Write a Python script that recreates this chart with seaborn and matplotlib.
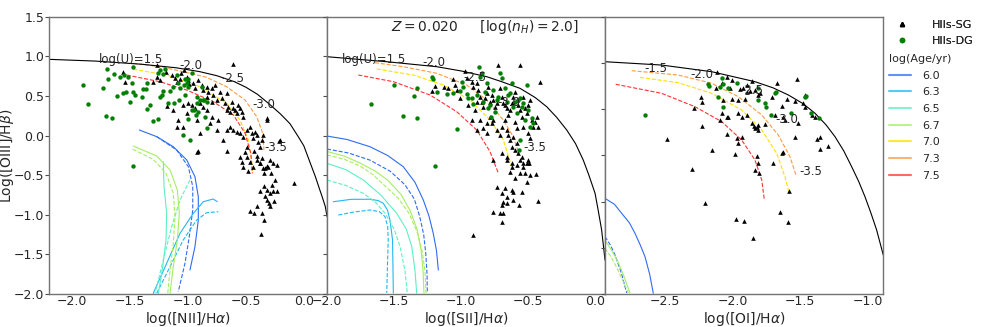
import matplotlib
matplotlib.use("Agg")
import matplotlib.pyplot as plt
import seaborn as sns
from matplotlib.lines import Line2D

sns.set_theme(style="white")
plt.rcParams['font.family'] = ['DejaVu Sans']
plt.rcParams['mathtext.fontset'] = 'dejavusans'

# ---------------- data ----------------
age_labels = ['6.0', '6.3', '6.5', '6.7', '7.0', '7.3', '7.5']
age_colors = ['#2f6cf2', '#20b8f0', '#5eeec6', '#a6ee62', '#ffe000', '#ff9a40', '#ff3333']
u_labels = ['log(U)=1.5', '-2.0', '-2.5', '-3.0', '-3.5']
u3_labels = ['-1.5', '-2.0', '-2.5', '-3.0', '-3.5']

# maximum starburst lines
kew1_x = [-2.2, -1.8, -1.4, -1.1, -0.9, -0.75, -0.6, -0.5, -0.4, -0.3, -0.2, -0.12, -0.05,
          0.0, 0.056, 0.1, 0.128, 0.16, 0.185, 0.2]
kew1_y = [0.962, 0.94, 0.90, 0.855, 0.807, 0.755, 0.68, 0.61, 0.52, 0.40, 0.27, 0.15, -0.01,
          -0.13, -0.349, -0.52, -0.643, -0.78, -0.895, -1.02]
kew2_x = [-2.0, -1.555, -1.183, -1.0, -0.811, -0.7, -0.563, -0.45, -0.364, -0.29, -0.215, -0.15,
          -0.092, -0.05, -0.004, 0.02, 0.045, 0.07]
kew2_y = [0.995, 0.932, 0.869, 0.815, 0.743, 0.68, 0.596, 0.48, 0.364, 0.23, 0.070, -0.10,
          -0.309, -0.50, -0.729, -0.95, -1.192, -1.571]
kew3_x = [-2.94, -2.522, -2.153, -1.834, -1.7, -1.588, -1.48, -1.391, -1.31, -1.244, -1.18, -1.121,
          -1.07, -1.023, -0.98, -0.937, -0.888]
kew3_y = [1.013, 0.977, 0.905, 0.797, 0.73, 0.653, 0.56, 0.455, 0.33, 0.202, 0.05, -0.123,
          -0.28, -0.447, -0.62, -0.807, -1.078]

# old-age model tracks (log U from -1.5 to -3.5), dashed
p1_73_x = [-1.472, -1.242, -1.041, -0.839, -0.666, -0.508, -0.407, -0.355, -0.344]
p1_73_y = [0.912, 0.869, 0.806, 0.735, 0.616, 0.449, 0.238, 0.028, -0.182]
p1_70_x = [-1.472, -1.184, -0.896, -0.665, -0.551, -0.479, -0.450, -0.444]
p1_70_y = [0.836, 0.764, 0.616, 0.407, 0.197, -0.056, -0.308, -0.476]
p1_75_x = [-1.529, -1.241, -1.011, -0.781, -0.608, -0.507, -0.458, -0.444]
p1_75_y = [0.764, 0.679, 0.574, 0.427, 0.259, 0.028, -0.225, -0.476]

p2_73_x = [-1.643, -1.432, -1.183, -0.960, -0.811, -0.687, -0.613, -0.576]
p2_73_y = [0.920, 0.869, 0.786, 0.638, 0.449, 0.196, -0.014, -0.204]
p2_70_x = [-1.630, -1.357, -1.134, -0.935, -0.786, -0.687, -0.625]
p2_70_y = [0.840, 0.764, 0.638, 0.449, 0.196, -0.056, -0.393]
p2_75_x = [-1.767, -1.506, -1.233, -1.034, -0.885, -0.786, -0.724]
p2_75_y = [0.764, 0.680, 0.512, 0.301, 0.070, -0.204, -0.476]

p3_73_x = [-2.743, -2.400, -2.153, -1.957, -1.784, -1.662, -1.576, -1.532]
p3_73_y = [0.916, 0.869, 0.780, 0.635, 0.437, 0.220, -0.015, -0.212]
p3_70_x = [-2.682, -2.400, -2.153, -1.932, -1.784, -1.674, -1.613, -1.583]
p3_70_y = [0.844, 0.786, 0.671, 0.491, 0.274, 0.022, -0.231, -0.404]
p3_75_x = [-2.861, -2.522, -2.276, -2.079, -1.932, -1.834, -1.784, -1.765]
p3_75_y = [0.769, 0.671, 0.526, 0.364, 0.166, -0.051, -0.267, -0.483]

# young-age model tracks, solid and dashed
p1_60s_x = [-1.420, -1.270, -1.127, -1.011, -0.940, -0.911, -0.911, -0.940, -0.983]
p1_60s_y = [0.070, -0.014, -0.141, -0.308, -0.519, -0.772, -1.066, -1.403, -1.697]
p1_60d_x = [-1.270, -1.098, -0.997, -0.959, -0.959, -0.989, -1.026, -1.084]
p1_60d_y = [-0.014, -0.182, -0.393, -0.645, -0.939, -1.276, -1.612, -1.971]
p1_63s_x = [-1.300, -1.184, -1.069, -0.954, -0.868, -0.782, -0.747]
p1_63s_y = [-1.991, -1.612, -1.234, -0.981, -0.835, -0.801, -0.835]
p1_63d_x = [-1.270, -1.155, -1.041, -0.925, -0.839, -0.738]
p1_63d_y = [-1.991, -1.655, -1.318, -1.066, -0.974, -0.961]
p1_65s_x = [-1.213, -1.207, -1.184, -1.190, -1.218, -1.256]
p1_65s_y = [-0.330, -0.645, -0.981, -1.318, -1.655, -1.991]
p1_65d_x = [-0.983, -1.069, -1.141, -1.199, -1.256, -1.285]
p1_65d_y = [-0.561, -0.813, -1.150, -1.486, -1.823, -1.991]
p1_67s_x = [-1.472, -1.270, -1.155, -1.092, -1.075, -1.092, -1.127, -1.155]
p1_67s_y = [-0.132, -0.258, -0.435, -0.687, -0.981, -1.318, -1.655, -1.991]
p1_67d_x = [-1.477, -1.300, -1.190, -1.127, -1.112, -1.127, -1.155, -1.175]
p1_67d_y = [-0.173, -0.300, -0.476, -0.729, -1.024, -1.360, -1.697, -1.991]

p2_60s_x = [-2.0, -1.85, -1.68, -1.55, -1.432, -1.345, -1.283, -1.24, -1.209, -1.185, -1.171]
p2_60s_y = [-0.006, -0.05, -0.141, -0.25, -0.393, -0.59, -0.813, -1.02, -1.233, -1.45, -1.697]
p2_60d_x = [-2.0, -1.84, -1.68, -1.53, -1.42, -1.35, -1.31, -1.28, -1.265, -1.255, -1.253]
p2_60d_y = [-0.17, -0.22, -0.31, -0.45, -0.62, -0.80, -1.02, -1.25, -1.48, -1.75, -1.99]
p2_63s_x = [-1.953, -1.82, -1.68, -1.62, -1.581, -1.55, -1.531, -1.512, -1.506]
p2_63s_y = [-0.835, -0.805, -0.804, -0.82, -0.855, -0.94, -1.066, -1.318, -1.987]
p2_63d_x = [-1.916, -1.80, -1.68, -1.61, -1.568, -1.548, -1.544, -1.55, -1.555]
p2_63d_y = [-1.003, -0.965, -0.94, -0.96, -1.024, -1.15, -1.318, -1.65, -1.987]
p2_65s_x = [-2.0, -1.86, -1.73, -1.60, -1.481, -1.41, -1.369, -1.345, -1.332]
p2_65s_y = [-0.35, -0.43, -0.561, -0.75, -0.981, -1.18, -1.402, -1.70, -1.991]
p2_65d_x = [-2.0, -1.86, -1.73, -1.64, -1.568, -1.50, -1.456, -1.42, -1.402]
p2_65d_y = [-0.561, -0.63, -0.729, -0.84, -0.981, -1.18, -1.402, -1.70, -1.991]
p2_67s_x = [-2.0, -1.87, -1.75, -1.64, -1.55, -1.45, -1.38, -1.33, -1.30, -1.285, -1.278]
p2_67s_y = [-0.20, -0.26, -0.35, -0.45, -0.56, -0.74, -0.95, -1.18, -1.44, -1.70, -1.99]
p2_67d_x = [-2.0, -1.87, -1.754, -1.66, -1.576, -1.47, -1.39, -1.33, -1.29, -1.27, -1.263]
p2_67d_y = [-0.245, -0.30, -0.384, -0.49, -0.624, -0.79, -0.98, -1.21, -1.47, -1.72, -1.99]

p3_60s_x = [-2.94, -2.87, -2.817, -2.76, -2.719, -2.68, -2.645, -2.61, -2.584]
p3_60s_y = [-0.465, -0.53, -0.627, -0.73, -0.843, -0.97, -1.096, -1.29, -1.492]
p3_60d_x = [-2.94, -2.90, -2.866, -2.82, -2.780]
p3_60d_y = [-0.880, -0.97, -1.078, -1.27, -1.489]
p3_67s_x = [-2.94, -2.89, -2.844, -2.80, -2.756]
p3_67s_y = [-0.916, -1.03, -1.154, -1.31, -1.489]
p3_67d_x = [-2.94, -2.895, -2.852, -2.81, -2.768]
p3_67d_y = [-1.005, -1.10, -1.218, -1.35, -1.489]

# log(U) label positions
u1_x = [-1.488, -0.974, -0.616, -0.344, -0.240]
u1_y = [0.954, 0.890, 0.714, 0.398, -0.157]
u2_x = [-1.650, -1.203, -0.898, -0.645, -0.451]
u2_y = [0.966, 0.916, 0.727, 0.411, -0.157]
u3_x = [-2.564, -2.225, -1.856, -1.598, -1.421]
u3_y = [0.945, 0.880, 0.699, 0.393, -0.177]

# HIIs-DG (green)
dg1_x = [-1.909, -1.860, -1.737, -1.702, -1.708, -1.688, -1.659, -1.639, -1.610, -1.587, -1.558, -1.552,
         -1.535, -1.515, -1.501, -1.486, -1.478, -1.472, -1.457, -1.400, -1.385, -1.362, -1.357, -1.328,
         -1.299, -1.256, -1.227, -1.242, -1.219, -1.213, -1.198, -1.170, -1.155, -1.121, -1.098, -1.083,
         -1.075, -1.046, -1.034, -1.026, -1.006, -0.997, -0.997, -0.983, -0.968, -0.948, -0.925, -0.919,
         -0.911, -0.896, -0.882, -0.873, -0.862, -0.853, -0.839, -0.839, -1.478, -1.357, -1.242, -1.256,
         -0.997, -0.968, -1.127, -1.069, -0.931, -1.026]
dg1_y = [0.638, 0.398, 0.596, 0.835, 0.251, 0.713, 0.217, 0.772, 0.503, 0.734, 0.541, 0.764,
         0.554, 0.743, 0.427, 0.667, 0.554, 0.869, 0.511, 0.490, 0.583, 0.583, 0.331, 0.385,
         0.188, 0.204, 0.511, 0.482, 0.566, 0.776, 0.835, 0.406, 0.566, 0.415, 0.764, 0.659,
         0.448, 0.007, 0.638, 0.709, 0.659, 0.204, 0.617, -0.057, 0.322, 0.322, 0.482, 0.415,
         0.301, 0.448, 0.617, 0.448, 0.448, 0.238, 0.091, 0.427, -0.380, 0.659, 0.827, 0.785,
         0.709, 0.785, 0.617, 0.596, 0.259, 0.511]

dg2_x = [-1.675, -1.501, -1.436, -1.332, -1.332, -1.350, -1.221, -1.208, -1.183, -1.109, -1.034, -1.196,
         -1.059, -1.010, -0.997, -0.985, -0.960, -0.948, -0.923, -0.910, -0.885, -0.866, -0.861, -0.848,
         -0.836, -0.823, -0.811, -0.799, -0.786, -0.781, -0.761, -0.749, -0.737, -0.724, -0.712, -0.699,
         -0.674, -0.662, -0.650, -0.637, -0.625, -0.612, -0.600, -0.588, -0.575, -0.563, -0.550, -0.538,
         -0.526, -0.513, -0.501, -0.488, -0.476, -0.464, -0.563, -0.568]
dg2_y = [0.398, 0.638, 0.246, 0.596, 0.217, 0.499, 0.734, 0.709, 0.545, 0.524, 0.078, -0.380,
         0.541, 0.566, 0.680, 0.617, 0.524, 0.469, 0.469, 0.398, 0.511, 0.869, 0.743, 0.785,
         0.427, 0.554, 0.659, 0.343, 0.385, 0.238, 0.575, 0.301, 0.448, 0.482, 0.785, 0.722,
         0.596, 0.427, 0.511, 0.532, 0.659, 0.356, 0.427, 0.280, 0.448, 0.469, 0.364, 0.406,
         0.196, 0.638, 0.322, 0.112, 0.217, 0.154, -0.057, -0.183]

dg3_x = [-2.645, -2.178, -2.173, -2.080, -2.068, -2.092, -2.031, -1.969, -2.109, -2.068, -1.810, -1.760,
         -1.755, -1.687, -1.682, -1.716, -1.569, -1.465, -1.461, -1.421, -1.362, -1.810]
dg3_y = [0.437, 0.772, 0.751, 0.834, 0.769, 0.736, 0.733, 0.779, 0.635, 0.527, 0.603, 0.570,
         0.520, 0.671, 0.686, 0.437, 0.455, 0.635, 0.646, 0.462, 0.401, 0.725]

# HIIs-SG (black triangles)
sg1_x = [-1.558, -1.544, -1.299, -1.270, -1.242, -1.270, -1.190, -1.141, -1.112, -1.098, -1.069, -1.063,
         -1.034, -1.011, -0.997, -0.988, -0.954, -0.939, -0.911, -0.882, -0.868, -0.839, -0.824, -0.796,
         -0.781, -0.767, -0.752, -0.724, -0.709, -0.680, -0.666, -0.652, -0.637, -0.623, -0.609, -0.594,
         -0.580, -0.565, -0.551, -0.537, -0.522, -0.614, -0.666, -0.896, -0.868, -0.839, -0.925, -0.810,
         -0.796, -0.896, -1.011, -1.040, -1.178, -1.098, -1.040, -0.997, -0.968, -0.939, -0.738, -0.695,
         -0.666, -0.637, -0.609, -0.580, -0.551, -0.522, -0.493, -0.465, -0.450, -0.436, -0.421, -0.407,
         -0.393, -0.378, -0.364, -0.349, -0.321, -0.306, -0.292, -0.263, -0.234, -0.211, -0.493, -0.508,
         -0.551, -0.537, -0.522, -0.493, -0.465, -0.436, -0.407, -0.378, -0.349, -0.919, -1.083, -1.127,
         -0.752, -0.839, -0.796,
         -0.319, -0.204, -0.089, -0.478, -0.463, -0.406, -0.363, -0.348, -0.371, -0.377, -0.348, -0.319,
         -0.290, -0.262, -0.233, -0.319, -0.290, -0.256, -0.247, -0.319, -0.348, -0.334, -0.377, -0.406,
         -0.434, -0.363, -0.910, -0.665, -0.276, -0.334, -0.434, -0.305, -0.285]
sg1_y = [0.806, 0.680, 0.680, 0.743, 0.701, 0.890, 0.806, 0.764, 0.722, 0.680, 0.709, 0.785,
         0.827, 0.743, 0.701, 0.650, 0.659, 0.596, 0.701, 0.638, 0.575, 0.617, 0.554, 0.596,
         0.511, 0.638, 0.448, 0.554, 0.469, 0.406, 0.322, 0.364, 0.301, 0.427, 0.343, 0.322,
         0.280, 0.385, 0.343, 0.301, 0.238, 0.898, 0.532, 0.406, 0.364, 0.322, 0.196, 0.154,
         0.238, 0.028, 0.280, 0.385, 0.373, 0.112, 0.112, 0.406, 0.385, 0.343, 0.196, -0.057,
         0.070, 0.112, 0.070, 0.049, 0.028, -0.014, 0.070, 0.112, 0.028, -0.035, 0.049, 0.007,
         -0.078, -0.141, -0.056, 0.007, 0.196, -0.393, -0.309, -0.351, -0.372, -0.065, -0.141, -0.204,
         -0.267, -0.330, -0.393, -0.267, -0.330, -0.393, -0.309, -0.351, -0.414, -0.204, 0.196, 0.322,
         0.070, 0.490, 0.427,
         0.219, -0.054, -0.600, -0.453, -0.957, -0.894, -0.978, -1.062, -1.243, -0.705, -0.642, -0.684,
         -0.726, -0.705, -0.705, -0.810, -0.894, -0.831, -0.558, -0.390, -0.474, -0.411, -0.348, -0.264,
         -0.201, -0.285, -0.201, -0.201, -0.621, -0.768, -0.978, -0.852, -0.474]

sg2_x = [-1.221, -1.196, -1.129, -1.096, -1.059, -1.047, -1.034, -1.010, -0.972, -0.960, -0.923, -0.910,
         -0.885, -0.873, -0.861, -0.848, -0.836, -0.823, -0.811, -0.799, -0.786, -0.774, -0.761, -0.749,
         -0.737, -0.724, -0.712, -0.699, -0.687, -0.674, -0.662, -0.650, -0.637, -0.625, -0.612, -0.600,
         -0.588, -0.575, -0.563, -0.563, -0.550, -0.538, -0.526, -0.513, -0.501, -0.488, -0.476, -0.464,
         -0.451, -0.439, -0.426, -0.414, -0.898, -0.885, -0.861, -0.836, -0.811, -0.786, -0.774, -0.761,
         -0.737, -0.712, -0.699, -0.674, -0.662, -0.650, -0.637, -0.625, -0.612, -0.600, -0.588, -0.575,
         -0.563, -0.550, -0.538, -0.513, -0.493, -0.625, -0.662, -0.699, -0.761, -0.811, -0.600, -0.588,
         -0.501, -0.488, -0.538, -0.885, -0.923, -0.948,
         -0.662, -0.625, -0.588, -0.538, -0.501, -0.563, -0.637, -0.600, -0.526, -0.444, -0.737, -0.674,
         -0.625, -0.612, -0.550, -0.699, -0.662, -0.687, -0.699, -0.662, -0.612, -0.570, -0.712, -0.692,
         -0.766, -0.699, -0.431, -0.910, -0.488, -0.513]
sg2_y = [0.566, 0.625, 0.617, 0.596, 0.709, 0.638, 0.575, 0.469, 0.819, 0.722, 0.680, 0.617,
         0.659, 0.575, 0.490, 0.427, 0.364, 0.469, 0.532, 0.617, 0.427, 0.511, 0.448, 0.364,
         0.406, 0.890, 0.596, 0.490, 0.406, 0.385, 0.343, 0.259, 0.322, 0.406, 0.490, 0.554,
         0.448, 0.385, 0.890, 0.322, 0.238, 0.490, 0.343, 0.280, 0.385, 0.448, 0.196, 0.112,
         0.175, 0.238, 0.112, 0.680, 0.322, 0.427, 0.196, 0.091, 0.154, 0.238, 0.154, 0.196,
         0.070, 0.007, 0.112, 0.196, 0.070, 0.007, -0.057, -0.141, -0.014, -0.183, -0.099, -0.225,
         -0.309, -0.267, -0.393, -0.351, -0.351, -0.351, -0.267, -0.225, -0.309, 0.028, 0.175, 0.091,
         0.028, -0.035, 0.112, 0.070, 0.196, 0.385,
         -0.308, -0.393, -0.371, -0.350, -0.308, -0.477, -0.456, -0.540, -0.477, -0.485, -0.645, -0.666,
         -0.687, -0.708, -0.708, -0.729, -0.771, -0.834, -0.876, -0.855, -0.813, -0.876, -0.981, -0.981,
         -0.960, -1.087, -0.826, -1.255, -0.498, -0.582]

sg3_x = [-2.117, -2.043, -2.006, -1.859, -1.674, -1.527, -2.232, -2.227, -2.284, -2.122, -2.080, -2.019,
         -1.945, -1.920, -1.896, -1.871, -1.834, -1.810, -1.797, -1.908, -1.957, -2.006, -2.068, -1.711,
         -1.638, -1.601, -1.539, -1.478, -1.465, -2.080, -2.092, -2.043, -2.031, -1.957, -1.932, -1.896,
         -1.859, -1.839, -1.822, -1.810, -1.834, -1.810, -1.760, -1.687, -1.625, -1.613, -1.515, -1.392,
         -1.379, -1.355, -1.293, -1.355, -2.223, -2.486, -2.043, -1.969, -1.962, -1.539, -2.154, -1.982,
         -1.822, -1.810, -1.834, -1.805, -1.699, -1.625, -1.633, -2.301, -2.203, -1.974, -1.915, -1.847,
         -1.650, -1.593, -1.583, -1.416, -1.465, -1.896, -1.932]
sg3_y = [0.906, 0.844, 0.816, 0.808, 0.779, 0.823, 0.628, 0.581, 0.509, 0.725, 0.779, 0.725,
         0.715, 0.725, 0.689, 0.700, 0.707, 0.653, 0.671, 0.606, 0.599, 0.606, 0.599, 0.635,
         0.534, 0.606, 0.592, 0.570, 0.653, 0.455, 0.383, 0.412, 0.419, 0.455, 0.419, 0.437,
         0.354, 0.318, 0.311, 0.329, 0.293, 0.275, 0.336, 0.437, 0.419, 0.383, 0.347, 0.419,
         0.174, 0.203, 0.105, 0.065, 0.318, 0.174, 0.228, 0.185, 0.130, 0.195, 0.058, 0.015,
         -0.007, -0.086, -0.158, -0.187, -0.079, 0.040, 0.022, -0.151, -0.519, -0.692, -0.706, -0.894,
         -0.612, -0.717, -0.385, 0.437, 0.527, 0.761, 0.203]

# ---------------- figure ----------------
fig = plt.figure(figsize=(9.81, 3.27), dpi=100)
W = 278 / 981
ax1 = fig.add_axes([49 / 981, 0.1009, W, 0.848])
ax2 = fig.add_axes([327 / 981, 0.1009, W, 0.848])
ax3 = fig.add_axes([605 / 981, 0.1009, W, 0.848])
axes = [ax1, ax2, ax3]

LW = 0.8


def curve(ax, xs, ys, color, ls='-'):
    sns.lineplot(x=xs, y=ys, ax=ax, color=color, lw=LW, linestyle=ls,
                 sort=False, estimator=None, legend=False)


c = dict(zip(age_labels, age_colors))

# panel 1
curve(ax1, p1_60s_x, p1_60s_y, c['6.0'])
curve(ax1, p1_60d_x, p1_60d_y, c['6.0'], '--')
curve(ax1, p1_63s_x, p1_63s_y, c['6.3'])
curve(ax1, p1_63d_x, p1_63d_y, c['6.3'], '--')
curve(ax1, p1_65s_x, p1_65s_y, c['6.5'])
curve(ax1, p1_65d_x, p1_65d_y, c['6.5'], '--')
curve(ax1, p1_67s_x, p1_67s_y, c['6.7'])
curve(ax1, p1_67d_x, p1_67d_y, c['6.7'], '--')
curve(ax1, p1_70_x, p1_70_y, c['7.0'], '--')
curve(ax1, p1_73_x, p1_73_y, c['7.3'], '--')
curve(ax1, p1_75_x, p1_75_y, c['7.5'], '--')
curve(ax1, kew1_x, kew1_y, 'black')

# panel 2
curve(ax2, p2_60s_x, p2_60s_y, c['6.0'])
curve(ax2, p2_60d_x, p2_60d_y, c['6.0'], '--')
curve(ax2, p2_63s_x, p2_63s_y, c['6.3'])
curve(ax2, p2_63d_x, p2_63d_y, c['6.3'], '--')
curve(ax2, p2_65s_x, p2_65s_y, c['6.5'])
curve(ax2, p2_65d_x, p2_65d_y, c['6.5'], '--')
curve(ax2, p2_67s_x, p2_67s_y, c['6.7'])
curve(ax2, p2_67d_x, p2_67d_y, c['6.7'], '--')
curve(ax2, p2_70_x, p2_70_y, c['7.0'], '--')
curve(ax2, p2_73_x, p2_73_y, c['7.3'], '--')
curve(ax2, p2_75_x, p2_75_y, c['7.5'], '--')
curve(ax2, kew2_x, kew2_y, 'black')

# panel 3
curve(ax3, p3_60s_x, p3_60s_y, c['6.0'])
curve(ax3, p3_60d_x, p3_60d_y, c['6.0'], '--')
curve(ax3, p3_67s_x, p3_67s_y, c['6.7'])
curve(ax3, p3_67d_x, p3_67d_y, c['6.7'], '--')
curve(ax3, p3_70_x, p3_70_y, c['7.0'], '--')
curve(ax3, p3_73_x, p3_73_y, c['7.3'], '--')
curve(ax3, p3_75_x, p3_75_y, c['7.5'], '--')
curve(ax3, kew3_x, kew3_y, 'black')

for ax, sx, sy, dx, dy in [(ax1, sg1_x, sg1_y, dg1_x, dg1_y),
                           (ax2, sg2_x, sg2_y, dg2_x, dg2_y),
                           (ax3, sg3_x, sg3_y, dg3_x, dg3_y)]:
    sns.scatterplot(x=sx, y=sy, ax=ax, marker='^', color='black', s=11, linewidth=0, zorder=3)
    sns.scatterplot(x=dx, y=dy, ax=ax, marker='o', color='green', s=10, linewidth=0, zorder=3)

for ax, ux, uy, labs in [(ax1, u1_x, u1_y, u_labels), (ax2, u2_x, u2_y, u_labels),
                         (ax3, u3_x, u3_y, u3_labels)]:
    for x, y, t in zip(ux, uy, labs):
        ax.text(x, y, t, fontsize=8.5, ha='center', va='center', zorder=4)

ax2.text(0.568, 0.963, r'$Z=0.020$     [log($n_H$)$=2.0$]', transform=ax2.transAxes,
         ha='center', va='center', fontsize=10)

ax1.set_xlim(-2.2, 0.2)
ax2.set_xlim(-2.0, 0.07)
ax3.set_xlim(-2.94, -0.89)
ax1.set_ylim(-2.0, 1.5)
ax2.set_ylim(-2.0, 1.5)
ax3.set_ylim(-1.5, 1.5)
ax1.set_xlabel(r'log([NII]/H$\alpha$)', fontsize=10, labelpad=1)
ax2.set_xlabel(r'log([SII]/H$\alpha$)', fontsize=10, labelpad=1)
ax3.set_xlabel(r'log([OI]/H$\alpha$)', fontsize=10, labelpad=1)
ax1.set_ylabel(r'Log([OIII]/H$\beta$)', fontsize=10)
ax1.yaxis.set_label_coords(-0.117, 0.5)

for i, ax in enumerate(axes):
    ax.tick_params(axis='x', bottom=True, length=0, labelsize=9, pad=1)
    ax.tick_params(axis='y', left=True, length=3, width=0.8, color='0.3',
                   labelsize=9, pad=0.5, labelleft=(i == 0))
    for sp in ax.spines.values():
        sp.set_color('0.45')
        sp.set_linewidth(1.0)

# legends
h_sg = Line2D([], [], marker='^', color='black', ls='none', ms=3)
h_dg = Line2D([], [], marker='o', color='green', ls='none', ms=3)
leg1 = fig.legend([h_sg, h_dg], ['HIIs-SG', 'HIIs-DG'], loc='upper left',
                  bbox_to_anchor=(0.906, 0.947), frameon=False, fontsize=8,
                  handlelength=2.0, handletextpad=1.72, borderpad=0.2, borderaxespad=0,
                  labelspacing=0.55)
line_handles = [Line2D([], [], color=col, lw=1.5, alpha=0.75) for col in age_colors]
leg2 = fig.legend(line_handles, age_labels, loc='upper left', title='log(Age/yr)',
                  title_fontsize=8, alignment='left',
                  bbox_to_anchor=(0.904, 0.842), frameon=False, fontsize=8,
                  handlelength=2.0, handletextpad=1.0, borderpad=0.2, borderaxespad=0,
                  labelspacing=0.6)
fig.add_artist(leg1)

fig.savefig('out.png', dpi=100)
